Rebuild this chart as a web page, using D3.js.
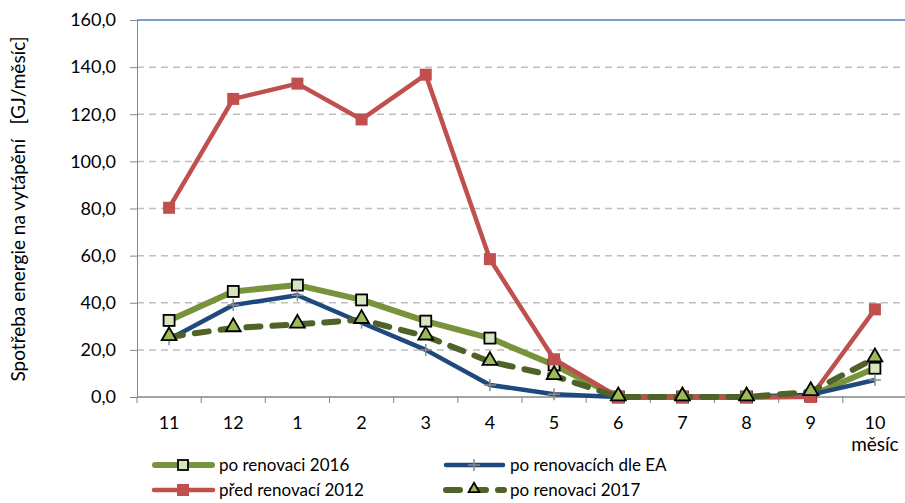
<!DOCTYPE html>
<html>
<head>
<meta charset="utf-8">
<script src="https://cdn.jsdelivr.net/npm/d3@7"></script>
<style>
  body { margin: 0; background: #fff; }
  svg { font-family: Lato, "Open Sans", sans-serif; }
</style>
</head>
<body>
<svg id="viz-svg" width="905" height="503"></svg>
<script>
// months from November to October
var months = ["11","12","1","2","3","4","5","6","7","8","9","10"]
var yTicks = [0,20,40,60,80,100,120,140,160]
var po2016 = [32.5,44.8,47.5,41.2,32.2,25.0,13.6,0,0,0,0.5,12.2]
var poEA = [24.5,39.0,43.2,31.5,20.0,5.1,1.2,0,0,0,1.0,7.2]
var pred2012 = [80.3,126.5,133.0,117.8,136.8,58.5,16.0,0,0,0,0,37.2]
var po2017 = [25.5,29.3,30.8,32.8,25.8,15.0,9.0,0,0,0,2.2,16.5]

var seriesNames = ["po renovaci 2016","po renovacích dle EA","před renovací 2012","po renovaci 2017"]

var svg = d3.select("#viz-svg")
  , plotLeft = 137
  , plotRight = 907
  , plotTop = 20
  , plotBottom = 397

var x = d3.scaleBand().domain(months).range([plotLeft,plotRight])
var y = d3.scaleLinear().domain([0,160]).range([plotBottom,plotTop])
var cx = function(d,i){ return x(months[i]) + x.bandwidth()/2 }

// grid
svg.append("g").selectAll("line")
  .data(yTicks.filter(function(d){ return d>0 && d<160 }))
  .enter().append("line")
    .attr("x1",plotLeft).attr("x2",plotRight)
    .attr("y1",function(d){ return y(d) }).attr("y2",function(d){ return y(d) })
    .style("stroke","#bfbfbf").style("stroke-width",1.5).style("stroke-dasharray","7,5")
svg.append("line")
  .attr("x1",plotLeft).attr("x2",plotRight).attr("y1",y(160)).attr("y2",y(160))
  .style("stroke","#4a7ebb").style("stroke-width",1.3)

// axes
var yAxis = d3.axisLeft(y).tickValues(yTicks).tickSize(7).tickPadding(14)
  .tickFormat(function(d){ return d3.format(".1f")(d).replace(".",",") })
var gy = svg.append("g").attr("transform","translate("+plotLeft+",0)").call(yAxis)
gy.select(".domain").style("stroke","#868686")
gy.selectAll(".tick line").style("stroke","#868686")
gy.selectAll("text").style("font-size","18px").style("fill","#000").style("font-family","Lato, sans-serif")

var gx = svg.append("g").attr("transform","translate(0,"+plotBottom+")")
gx.append("line").attr("x1",plotLeft).attr("x2",plotRight).style("stroke","#868686").style("stroke-width",1.5)
gx.selectAll(".xt").data(d3.range(months.length+1)).enter().append("line")
  .attr("x1",function(d){ return plotLeft + d*x.step() }).attr("x2",function(d){ return plotLeft + d*x.step() })
  .attr("y1",0).attr("y2",6).style("stroke","#868686")
gx.selectAll(".xl").data(months).enter().append("text")
  .attr("x",function(d){ return x(d)+x.bandwidth()/2 }).attr("y",32)
  .attr("text-anchor","middle").style("font-size","18px").text(function(d){ return d })
svg.append("text").attr("x",x("10")+x.bandwidth()/2).attr("y",451)
  .attr("text-anchor","middle").style("font-size","19px").text("měsíc")

// y label
svg.append("text")
  .attr("transform","translate(25,209) rotate(-90)")
  .attr("text-anchor","middle").style("font-size","19px")
  .style("white-space","pre")
  .text("Spotřeba energie na vytápění   [GJ/měsíc]")

var line = d3.line().x(cx).y(function(d){ return y(d) })

function square(g, data, size, fill, stroke){
  g.selectAll("rect").data(data).enter().append("rect")
    .attr("x",function(d,i){ return cx(d,i)-size/2 }).attr("y",function(d){ return y(d)-size/2 })
    .attr("width",size).attr("height",size)
    .style("fill",fill).style("stroke",stroke||"none").style("stroke-width",1.8)
}

// po renovaci 2016
var g1 = svg.append("g")
g1.append("path").datum(po2016).attr("d",line)
  .style("fill","none").style("stroke","#77933c").style("stroke-width",6).style("stroke-linejoin","round")
square(g1, po2016, 11, "#d7e4bd", "#000")

// po renovacich dle EA
var g2 = svg.append("g")
g2.append("path").datum(poEA).attr("d",line)
  .style("fill","none").style("stroke","#1f497d").style("stroke-width",4.5).style("stroke-linejoin","round")
g2.selectAll("path.plus").data(poEA).enter().append("path").attr("class","plus")
  .attr("d",function(d,i){ var a=cx(d,i), b=y(d); return "M"+(a-6)+","+b+"H"+(a+6)+"M"+a+","+(b-6)+"V"+(b+6) })
  .style("stroke","#8c8c8c").style("stroke-width",1.5)

// pred renovaci 2012
var g3 = svg.append("g")
g3.append("path").datum(pred2012).attr("d",line)
  .style("fill","none").style("stroke","#c0504d").style("stroke-width",4.5).style("stroke-linejoin","round")
square(g3, pred2012, 12, "#c0504d")

// po renovaci 2017
var g4 = svg.append("g")
g4.append("path").datum(po2017).attr("d",line)
  .style("fill","none").style("stroke","#4f6228").style("stroke-width",6)
  .style("stroke-dasharray","14,12").style("stroke-linecap","round")
var tri = d3.symbol().type(d3.symbolTriangle).size(95)
g4.selectAll("path.tri").data(po2017).enter().append("path").attr("class","tri")
  .attr("d",tri).attr("transform",function(d,i){ return "translate("+cx(d,i)+","+(y(d)-1)+")" })
  .style("fill","#9bbb59").style("stroke","#000").style("stroke-width",1.8)

// legend
var legend = svg.append("g").attr("id","legend")
var items = [
  {x:152,y:465,name:seriesNames[0]},
  {x:443,y:465,name:seriesNames[1]},
  {x:152,y:490,name:seriesNames[2]},
  {x:443,y:490,name:seriesNames[3]}
]
items.forEach(function(it,k){
  var g = legend.append("g").attr("transform","translate("+it.x+","+it.y+")")
  if(k==0){
    g.append("line").attr("x1",3).attr("x2",60).style("stroke","#77933c").style("stroke-width",6).style("stroke-linecap","round")
    g.append("rect").attr("x",26).attr("y",-5).attr("width",10).attr("height",10).style("fill","#d7e4bd").style("stroke","#000").style("stroke-width",1.8)
  } else if(k==1){
    g.append("line").attr("x1",3).attr("x2",60).style("stroke","#1f497d").style("stroke-width",4.5).style("stroke-linecap","round")
    g.append("path").attr("d","M25,0H37M31,-6V6").style("stroke","#8c8c8c").style("stroke-width",1.5)
  } else if(k==2){
    g.append("line").attr("x1",2).attr("x2",61).style("stroke","#c0504d").style("stroke-width",4.5).style("stroke-linecap","round")
    g.append("rect").attr("x",25).attr("y",-6).attr("width",12).attr("height",12).style("fill","#c0504d")
  } else {
    g.append("line").attr("x1",3).attr("x2",61).style("stroke","#4f6228").style("stroke-width",6)
      .style("stroke-dasharray","14,12").style("stroke-linecap","round")
    g.append("path").attr("d",d3.symbol().type(d3.symbolTriangle).size(50)).attr("transform","translate(31,-1)")
      .style("fill","#9bbb59").style("stroke","#000").style("stroke-width",1.8)
  }
  g.append("text").attr("x",67).attr("y",6).style("font-size","17px").text(it.name)
})
</script>
</body>
</html>
